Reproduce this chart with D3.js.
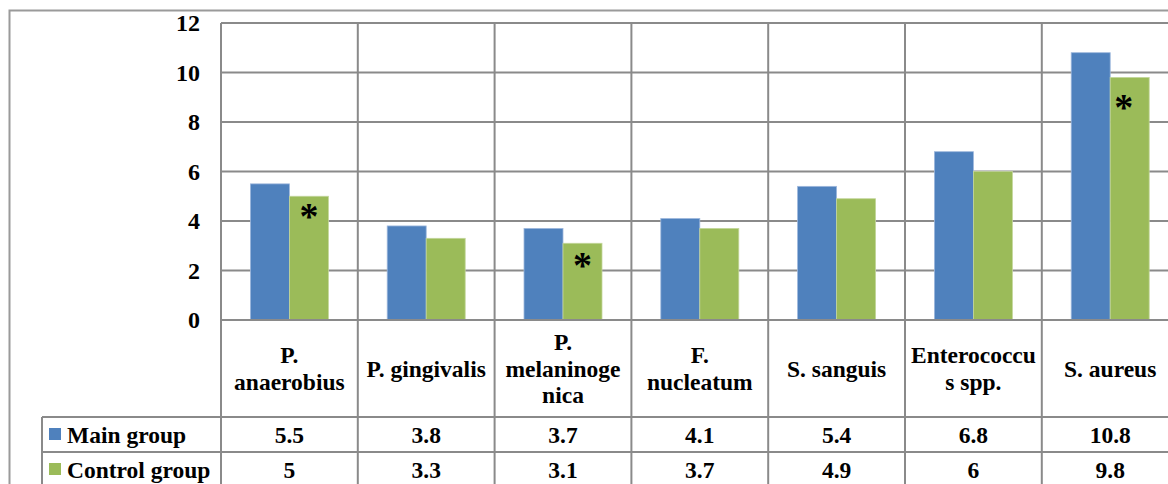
<!DOCTYPE html>
<html><head><meta charset="utf-8">
<script src="https://cdn.jsdelivr.net/npm/d3@7"></script>
</head><body style="margin:0">
<svg id="c" width="1168" height="484"></svg>
<script>
const categories = ["P. anaerobius","P. gingivalis","P. melaninogenica","F. nucleatum","S. sanguis","Enterococcus spp.","S. aureus"];
const categoryLines = [["P.","anaerobius"],["P. gingivalis"],["P.","melaninoge","nica"],["F.","nucleatum"],["S. sanguis"],["Enterococcu","s spp."],["S. aureus"]];
const seriesNames = ["Main group","Control group"];
const mainGroup = [5.5,3.8,3.7,4.1,5.4,6.8,10.8];
const controlGroup = [5,3.3,3.1,3.7,4.9,6,9.8];
const mainLabels = ["5.5","3.8","3.7","4.1","5.4","6.8","10.8"];
const controlLabels = ["5","3.3","3.1","3.7","4.9","6","9.8"];
const markerValue = [4.36,null,2.38,null,null,null,8.75];
const yTicks = [0,2,4,6,8,10,12];
const colors = ["#4F81BD","#9BBB59"];

const svg = d3.select("#c");
const GRID = "#8a8a8a";
const P_LEFT = 221, P_TOP = 23, P_BOTTOM = 320, STEP = 136.8;
const ROW_TOP = 417, ROW_H = 35, TABLE_LEFT = 42;
const FS = "23.5px";

function txt(sel, size){
  return sel.style("font-family", `"Liberation Serif", monospace`).style("font-weight","bold").style("font-size", size);
}

const y = d3.scaleLinear().domain([0,12]).range([P_BOTTOM, P_TOP]);
const x = d3.scaleBand().domain(categories).range([P_LEFT, P_LEFT + STEP*categories.length]).padding(0);
const x1 = d3.scaleBand().domain(seriesNames).range([0, x.bandwidth()]).paddingInner(0).paddingOuter(0.754);
const color = d3.scaleOrdinal().domain(seriesNames).range(colors);

svg.append("rect").attr("x",9.5).attr("y",10.5).attr("width",1300).attr("height",600)
  .attr("fill","#fff").attr("stroke","#9a9a9a").attr("stroke-width",2);

svg.append("g").selectAll("line").data(yTicks).join("line")
  .attr("x1",P_LEFT).attr("x2",1300).attr("y1",d=>y(d)).attr("y2",d=>y(d))
  .attr("stroke",GRID).attr("stroke-width",2);

const data = categories.map((c,i)=>({c, vals:[mainGroup[i],controlGroup[i]], m:markerValue[i]}));
data.forEach(d=>{
  seriesNames.forEach((s,j)=>{
    svg.append("rect")
      .attr("x", x(d.c)+x1(s)).attr("width", x1.bandwidth())
      .attr("y", y(d.vals[j])).attr("height", y(0)-y(d.vals[j]))
      .attr("fill", color(s)).attr("stroke", j===0?"#9db7dc":"#c3d69b").attr("stroke-width",0.8);
  });
});

const vx = d3.range(categories.length+1).map(i=>P_LEFT+i*STEP);
svg.append("g").selectAll("line").data(vx).join("line")
  .attr("x1",d=>d).attr("x2",d=>d).attr("y1",P_TOP).attr("y2",500)
  .attr("stroke",GRID).attr("stroke-width",2);

svg.append("line").attr("x1",P_LEFT).attr("x2",1300).attr("y1",P_BOTTOM).attr("y2",P_BOTTOM).attr("stroke",GRID).attr("stroke-width",2);
[ROW_TOP,ROW_TOP+ROW_H,ROW_TOP+2*ROW_H].forEach(yy=>{
  svg.append("line").attr("x1",TABLE_LEFT).attr("x2",1300).attr("y1",yy).attr("y2",yy).attr("stroke",GRID).attr("stroke-width",2);
});
svg.append("line").attr("x1",TABLE_LEFT).attr("x2",TABLE_LEFT).attr("y1",ROW_TOP).attr("y2",500).attr("stroke",GRID).attr("stroke-width",2);

data.forEach((d,i)=>{
  if(d.m != null){
    const cx = x(d.c)+x1(seriesNames[1])+x1.bandwidth()/2 - (i===6?6:0);
    txt(svg.append("text").attr("x", cx).attr("y", y(d.m)+17).attr("text-anchor","middle"), "38px").text("*");
  }
});

// y axis labels
const yAxis = d3.axisLeft(y).tickValues(yTicks).tickSize(0).tickPadding(21).tickFormat(d3.format("d"));
const ga = svg.append("g").attr("transform",`translate(${P_LEFT},0)`).call(yAxis);
ga.attr("font-family",null).attr("font-size",null);
ga.select(".domain").remove();
txt(ga.selectAll("text"), "24px").attr("fill","#000");

// category labels
const LH = 26.5;
categories.forEach((c,i)=>{
  const lines = categoryLines[i];
  const cy = (P_BOTTOM+ROW_TOP)/2 + 8;
  lines.forEach((ln,k)=>{
    txt(svg.append("text").attr("text-anchor","middle").attr("x", x(c)+x.bandwidth()/2)
      .attr("y", cy + (k-(lines.length-1)/2)*LH), FS).text(ln);
  });
});

// table rows
[mainLabels, controlLabels].forEach((vals,r)=>{
  const cy = ROW_TOP + r*ROW_H + ROW_H/2 + 8;
  svg.append("rect").attr("x",49).attr("y",ROW_TOP + r*ROW_H + 11).attr("width",12).attr("height",12).attr("fill",colors[r]);
  txt(svg.append("text").attr("x",67).attr("y",cy), FS).text(seriesNames[r]);
  vals.forEach((v,i)=>{
    txt(svg.append("text").attr("x",x(categories[i])+x.bandwidth()/2).attr("y",cy).attr("text-anchor","middle"), FS).text(v);
  });
});
</script>
</body></html>
